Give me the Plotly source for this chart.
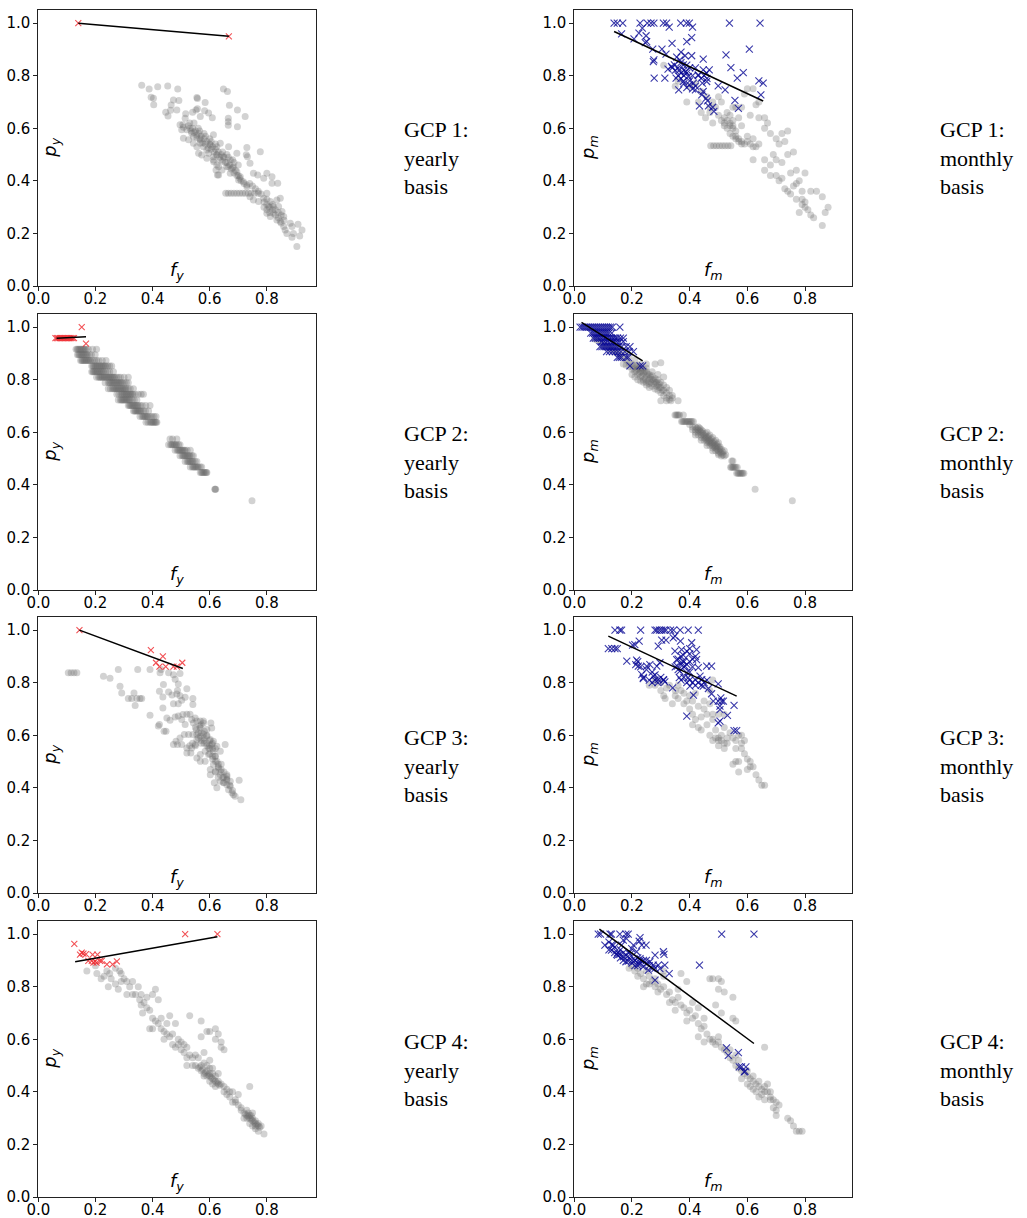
import plotly.graph_objects as go

# ---------------------------------------------------------------
# GCP 1, yearly basis: (f_y, p_y)
gcp1_y_gray = [
    (0.362, 0.764), (0.388, 0.749), (0.418, 0.758), (0.453, 0.761), (0.488, 0.749),
    (0.395, 0.718), (0.403, 0.714), (0.404, 0.690), (0.473, 0.708), (0.492, 0.706),
    (0.465, 0.689), (0.446, 0.661), (0.454, 0.647), (0.463, 0.669), (0.485, 0.670),
    (0.555, 0.717), (0.557, 0.713), (0.584, 0.698), (0.582, 0.667), (0.596, 0.658),
    (0.609, 0.640), (0.567, 0.645), (0.557, 0.674), (0.552, 0.670), (0.540, 0.661),
    (0.516, 0.655), (0.514, 0.638), (0.506, 0.613), (0.508, 0.604), (0.520, 0.594),
    (0.531, 0.600), (0.537, 0.581), (0.543, 0.568), (0.555, 0.574), (0.567, 0.555),
    (0.555, 0.530), (0.567, 0.543), (0.578, 0.530), (0.590, 0.517), (0.602, 0.536),
    (0.596, 0.505), (0.613, 0.492), (0.625, 0.498), (0.637, 0.479), (0.648, 0.492),
    (0.660, 0.454), (0.672, 0.479), (0.683, 0.454), (0.695, 0.435), (0.707, 0.416),
    (0.718, 0.397), (0.730, 0.384), (0.701, 0.403), (0.672, 0.429), (0.643, 0.441),
    (0.625, 0.460), (0.631, 0.422), (0.614, 0.473), (0.496, 0.613), (0.502, 0.594),
    (0.508, 0.562), (0.526, 0.556), (0.543, 0.543), (0.561, 0.505), (0.572, 0.498),
    (0.590, 0.486), (0.613, 0.479), (0.631, 0.454), (0.622, 0.441), (0.627, 0.422),
    (0.648, 0.749), (0.662, 0.740), (0.669, 0.688), (0.665, 0.638), (0.665, 0.625),
    (0.665, 0.612), (0.697, 0.606), (0.697, 0.670), (0.724, 0.645), (0.613, 0.575),
    (0.637, 0.543), (0.666, 0.530), (0.695, 0.505), (0.730, 0.527), (0.728, 0.499),
    (0.732, 0.492), (0.741, 0.467), (0.753, 0.429), (0.777, 0.511), (0.768, 0.422),
    (0.789, 0.410), (0.800, 0.429), (0.818, 0.416), (0.838, 0.391), (0.818, 0.391),
    (0.656, 0.353), (0.665, 0.353), (0.675, 0.353), (0.685, 0.353), (0.695, 0.353),
    (0.705, 0.353), (0.715, 0.353), (0.725, 0.353), (0.735, 0.353), (0.745, 0.353),
    (0.757, 0.353), (0.770, 0.353), (0.730, 0.378), (0.741, 0.340), (0.753, 0.327),
    (0.771, 0.321), (0.789, 0.334), (0.800, 0.353), (0.812, 0.321), (0.823, 0.302),
    (0.835, 0.327), (0.847, 0.334), (0.806, 0.302), (0.800, 0.277), (0.812, 0.264),
    (0.823, 0.277), (0.835, 0.251), (0.847, 0.245), (0.859, 0.226), (0.864, 0.213),
    (0.870, 0.200), (0.859, 0.264), (0.853, 0.283), (0.841, 0.302), (0.882, 0.239),
    (0.888, 0.226), (0.893, 0.200), (0.888, 0.185), (0.909, 0.235), (0.923, 0.213),
    (0.915, 0.190), (0.905, 0.150), (0.550, 0.590), (0.560, 0.580), (0.570, 0.570),
    (0.580, 0.560), (0.590, 0.550), (0.600, 0.540), (0.610, 0.530), (0.620, 0.520),
    (0.630, 0.510), (0.640, 0.500), (0.650, 0.490), (0.660, 0.470), (0.670, 0.460),
    (0.680, 0.450), (0.690, 0.440), (0.700, 0.420), (0.710, 0.400), (0.720, 0.390),
    (0.530, 0.620), (0.540, 0.600), (0.560, 0.600), (0.580, 0.580), (0.600, 0.560),
    (0.620, 0.540), (0.660, 0.500), (0.680, 0.480), (0.700, 0.460), (0.790, 0.320),
    (0.800, 0.310), (0.810, 0.300), (0.820, 0.290), (0.830, 0.270), (0.840, 0.260),
    (0.850, 0.240), (0.800, 0.330), (0.780, 0.350), (0.770, 0.360), (0.760, 0.370),
    (0.750, 0.380), (0.740, 0.390), (0.525, 0.610), (0.535, 0.590), (0.545, 0.585),
    (0.555, 0.565), (0.565, 0.560), (0.575, 0.545), (0.585, 0.540), (0.595, 0.525),
    (0.605, 0.520), (0.615, 0.510), (0.625, 0.500), (0.635, 0.490), (0.645, 0.475),
    (0.655, 0.470), (0.665, 0.455), (0.675, 0.445), (0.685, 0.430), (0.695, 0.420),
    (0.705, 0.410), (0.545, 0.620), (0.565, 0.590), (0.585, 0.570), (0.605, 0.550),
    (0.625, 0.530), (0.645, 0.510), (0.665, 0.490), (0.685, 0.470), (0.810, 0.280),
    (0.820, 0.310), (0.830, 0.290), (0.840, 0.280), (0.790, 0.300), (0.800, 0.290),
    (0.850, 0.270), (0.860, 0.250),
]
gcp1_y_hits = [(0.140, 1.000), (0.667, 0.950)]
gcp1_y_fit = [(0.140, 1.000), (0.667, 0.950)]

# GCP 1, monthly basis: (f_m, p_m)
gcp1_m_gray = [
    (0.455, 0.64), (0.470, 0.66), (0.490, 0.68), (0.510, 0.70), (0.480, 0.62),
    (0.500, 0.65), (0.510, 0.63), (0.520, 0.64), (0.530, 0.66), (0.540, 0.65),
    (0.550, 0.63), (0.520, 0.61), (0.530, 0.60), (0.540, 0.61), (0.550, 0.60),
    (0.560, 0.59), (0.540, 0.58), (0.550, 0.57), (0.560, 0.56), (0.570, 0.55),
    (0.580, 0.54), (0.590, 0.54), (0.600, 0.55), (0.610, 0.54), (0.620, 0.53),
    (0.630, 0.53), (0.560, 0.68), (0.570, 0.64), (0.580, 0.61), (0.600, 0.57),
    (0.620, 0.56), (0.640, 0.54), (0.620, 0.48), (0.640, 0.64), (0.660, 0.60),
    (0.660, 0.64), (0.600, 0.75), (0.620, 0.75), (0.640, 0.70), (0.670, 0.62),
    (0.680, 0.58), (0.700, 0.56), (0.720, 0.58), (0.740, 0.59), (0.730, 0.55),
    (0.710, 0.54), (0.473, 0.534), (0.483, 0.534), (0.493, 0.534), (0.503, 0.534),
    (0.513, 0.534), (0.523, 0.534), (0.533, 0.534), (0.543, 0.534),
    (0.66, 0.44), (0.68, 0.46), (0.69, 0.50), (0.70, 0.48), (0.72, 0.47),
    (0.74, 0.50), (0.76, 0.51), (0.70, 0.42), (0.71, 0.40), (0.72, 0.41),
    (0.73, 0.37), (0.74, 0.36), (0.75, 0.35), (0.76, 0.38), (0.77, 0.39),
    (0.78, 0.40), (0.75, 0.43), (0.77, 0.44), (0.80, 0.43), (0.79, 0.33),
    (0.80, 0.32), (0.79, 0.31), (0.80, 0.30), (0.81, 0.29), (0.82, 0.27),
    (0.83, 0.26), (0.78, 0.28), (0.77, 0.33), (0.82, 0.36), (0.84, 0.36),
    (0.86, 0.34), (0.86, 0.23), (0.88, 0.30), (0.87, 0.28), (0.79, 0.36),
    (0.68, 0.42), (0.66, 0.48), (0.31, 0.84), (0.35, 0.76), (0.36, 0.78),
    (0.39, 0.70), (0.40, 0.76), (0.42, 0.77), (0.44, 0.74), (0.46, 0.72),
    (0.48, 0.70), (0.44, 0.66), (0.43, 0.70), (0.47, 0.68), (0.50, 0.72),
    (0.55, 0.68), (0.58, 0.68), (0.59, 0.73), (0.61, 0.65), (0.63, 0.69),
    (0.52, 0.62), (0.53, 0.63), (0.54, 0.62), (0.55, 0.61), (0.56, 0.57),
    (0.57, 0.56), (0.58, 0.55),
]
gcp1_m_hits = [
    (0.138, 1.0), (0.149, 1.0), (0.168, 1.0), (0.228, 1.0), (0.253, 1.0), (0.266, 1.0),
    (0.276, 1.0), (0.309, 1.0), (0.320, 1.0), (0.369, 1.0), (0.389, 1.0), (0.399, 1.0),
    (0.538, 1.0), (0.644, 1.0), (0.164, 0.959), (0.207, 0.940), (0.224, 0.962),
    (0.236, 0.981), (0.249, 0.952), (0.251, 0.930), (0.246, 0.926), (0.272, 0.901),
    (0.274, 0.854), (0.276, 0.860), (0.304, 0.901), (0.318, 0.882), (0.329, 0.985),
    (0.339, 0.923), (0.277, 0.791), (0.314, 0.791), (0.325, 0.825), (0.337, 0.835),
    (0.347, 0.841), (0.355, 0.871), (0.353, 0.791), (0.364, 0.820), (0.366, 0.860),
    (0.370, 0.890), (0.384, 0.876), (0.378, 0.841), (0.386, 0.816), (0.390, 0.930),
    (0.407, 0.945), (0.410, 0.985), (0.407, 0.876), (0.395, 0.797), (0.378, 0.778),
    (0.362, 0.746), (0.390, 0.755), (0.399, 0.765), (0.413, 0.772), (0.420, 0.746),
    (0.430, 0.803), (0.447, 0.863), (0.447, 0.822), (0.459, 0.810), (0.459, 0.778),
    (0.468, 0.822), (0.444, 0.772), (0.447, 0.740), (0.442, 0.727), (0.457, 0.714),
    (0.462, 0.704), (0.434, 0.685), (0.465, 0.685), (0.480, 0.680), (0.484, 0.664),
    (0.499, 0.761), (0.523, 0.746), (0.526, 0.879), (0.543, 0.831), (0.557, 0.706),
    (0.565, 0.791), (0.569, 0.676), (0.586, 0.812), (0.607, 0.901), (0.640, 0.780),
    (0.655, 0.772), (0.647, 0.727), (0.36, 0.83), (0.37, 0.85), (0.38, 0.82),
    (0.39, 0.84), (0.40, 0.83), (0.38, 0.80), (0.37, 0.81), (0.39, 0.81), (0.41, 0.80),
    (0.40, 0.78), (0.36, 0.80), (0.35, 0.82), (0.34, 0.83), (0.42, 0.83), (0.43, 0.80),
    (0.44, 0.79), (0.45, 0.80), (0.46, 0.79), (0.42, 0.76), (0.41, 0.75), (0.38, 0.77),
    (0.37, 0.79),
]
gcp1_m_fit = [(0.138, 0.968), (0.655, 0.704)]

# GCP 2, yearly basis: many (f_y, p_y) pairs share the same p_y level
gcp2_y_levels = {
    0.916: [0.132, 0.136, 0.139, 0.143, 0.146, 0.150, 0.153, 0.157, 0.160, 0.164, 0.167,
            0.175, 0.190, 0.204],
    0.895: [0.137, 0.141, 0.144, 0.148, 0.151, 0.155, 0.158, 0.162, 0.165, 0.169, 0.172,
            0.179, 0.186, 0.199],
    0.873: [0.148, 0.152, 0.155, 0.159, 0.162, 0.166, 0.169, 0.173, 0.176, 0.180, 0.183,
            0.190, 0.197, 0.204, 0.212, 0.224, 0.237],
    0.852: [0.187, 0.191, 0.194, 0.198, 0.201, 0.205, 0.208, 0.212, 0.215, 0.219, 0.222,
            0.226, 0.229, 0.233, 0.236, 0.243, 0.250, 0.257],
    0.830: [0.187, 0.191, 0.194, 0.198, 0.201, 0.205, 0.208, 0.212, 0.215, 0.219, 0.222,
            0.226, 0.229, 0.236, 0.243, 0.250, 0.263],
    0.809: [0.204, 0.211, 0.215, 0.218, 0.222, 0.225, 0.229, 0.232, 0.236, 0.239, 0.243,
            0.246, 0.250, 0.253, 0.257, 0.260, 0.264, 0.267, 0.274, 0.281, 0.288, 0.300,
            0.315],
    0.788: [0.234, 0.245, 0.249, 0.252, 0.256, 0.259, 0.263, 0.266, 0.270, 0.273, 0.277,
            0.280, 0.284, 0.287, 0.291, 0.294, 0.301, 0.308, 0.315],
    0.766: [0.245, 0.252, 0.259, 0.263, 0.266, 0.270, 0.273, 0.277, 0.280, 0.284, 0.287,
            0.291, 0.294, 0.298, 0.301, 0.305, 0.308, 0.315, 0.322, 0.333],
    0.745: [0.275, 0.282, 0.289, 0.293, 0.296, 0.300, 0.303, 0.307, 0.310, 0.314, 0.317,
            0.321, 0.324, 0.328, 0.331, 0.338, 0.350, 0.360, 0.368],
    0.723: [0.280, 0.287, 0.291, 0.294, 0.298, 0.301, 0.305, 0.308, 0.312, 0.315, 0.319,
            0.322, 0.329, 0.336, 0.345],
    0.702: [0.315, 0.319, 0.322, 0.326, 0.329, 0.333, 0.336, 0.340, 0.343, 0.347, 0.350,
            0.357, 0.364, 0.376, 0.391],
    0.681: [0.333, 0.337, 0.340, 0.344, 0.347, 0.351, 0.354, 0.358, 0.361, 0.368, 0.375,
            0.386],
    0.660: [0.356, 0.363, 0.367, 0.370, 0.374, 0.377, 0.381, 0.384, 0.391, 0.398, 0.405,
            0.412],
    0.638: [0.377, 0.384, 0.391, 0.395, 0.398, 0.402, 0.405, 0.409, 0.412, 0.415],
    0.574: [0.461, 0.470, 0.485],
    0.553: [0.456, 0.463, 0.467, 0.470, 0.474, 0.477, 0.481, 0.484, 0.491, 0.496],
    0.532: [0.479, 0.486, 0.490, 0.493, 0.497, 0.500, 0.504, 0.507, 0.511, 0.514, 0.521,
            0.532],
    0.511: [0.496, 0.503, 0.507, 0.510, 0.514, 0.517, 0.521, 0.524, 0.528, 0.531, 0.538,
            0.543],
    0.489: [0.514, 0.521, 0.525, 0.528, 0.532, 0.535, 0.539, 0.542, 0.549, 0.555],
    0.468: [0.532, 0.539, 0.543, 0.546, 0.550, 0.553, 0.557, 0.560, 0.567, 0.572],
    0.447: [0.567, 0.571, 0.574, 0.578, 0.581, 0.585, 0.588, 0.590],
    0.383: [0.618, 0.619, 0.621],
    0.340: [0.748],
}
gcp2_y_hits = [
    (0.060, 0.958), (0.065, 0.958), (0.070, 0.958), (0.075, 0.958), (0.080, 0.958),
    (0.085, 0.958), (0.090, 0.958), (0.095, 0.958), (0.100, 0.958), (0.105, 0.958),
    (0.110, 0.958), (0.115, 0.958), (0.120, 0.958), (0.125, 0.958),
    (0.152, 1.000), (0.167, 0.937),
]
gcp2_y_fit = [(0.064, 0.958), (0.167, 0.963)]

# GCP 2, monthly basis
gcp2_m_gray = [
    (0.07, 0.955), (0.08, 0.95), (0.09, 0.945), (0.10, 0.935), (0.11, 0.93), (0.12, 0.92),
    (0.13, 0.915), (0.14, 0.905), (0.15, 0.90), (0.16, 0.89), (0.17, 0.885), (0.18, 0.875),
    (0.19, 0.865), (0.20, 0.86), (0.21, 0.85), (0.22, 0.84), (0.23, 0.83), (0.24, 0.825),
    (0.25, 0.815), (0.26, 0.805), (0.27, 0.80), (0.28, 0.79), (0.29, 0.78), (0.30, 0.77),
    (0.31, 0.76), (0.32, 0.75), (0.33, 0.74), (0.34, 0.73), (0.17, 0.86), (0.18, 0.855),
    (0.19, 0.85), (0.20, 0.84), (0.21, 0.83), (0.22, 0.82), (0.23, 0.81), (0.24, 0.80),
    (0.25, 0.79), (0.26, 0.785), (0.27, 0.775), (0.28, 0.765), (0.29, 0.76), (0.30, 0.75),
    (0.31, 0.74), (0.32, 0.73), (0.33, 0.725), (0.13, 0.93), (0.15, 0.92), (0.17, 0.905),
    (0.19, 0.89), (0.21, 0.875), (0.23, 0.86), (0.25, 0.845), (0.27, 0.83), (0.29, 0.82),
    (0.31, 0.81), (0.25, 0.86), (0.28, 0.86), (0.30, 0.865), (0.20, 0.82), (0.21, 0.81),
    (0.22, 0.80), (0.23, 0.795), (0.24, 0.79), (0.25, 0.78), (0.26, 0.77), (0.22, 0.85),
    (0.23, 0.845), (0.24, 0.84), (0.25, 0.83), (0.26, 0.82), (0.27, 0.815), (0.28, 0.805),
    (0.29, 0.80), (0.30, 0.79), (0.31, 0.78), (0.32, 0.77), (0.33, 0.76), (0.36, 0.72),
    (0.335, 0.72), (0.32, 0.72), (0.30, 0.72), (0.34, 0.74),
    (0.205, 0.845), (0.215, 0.835), (0.225, 0.825), (0.235, 0.815), (0.245, 0.805),
    (0.255, 0.795), (0.265, 0.790), (0.275, 0.785), (0.285, 0.775), (0.295, 0.770),
    (0.305, 0.760), (0.215, 0.855), (0.225, 0.845), (0.235, 0.835), (0.245, 0.830),
    (0.255, 0.820), (0.265, 0.810), (0.275, 0.800), (0.285, 0.790), (0.295, 0.785),
    (0.349, 0.666), (0.353, 0.666), (0.357, 0.666), (0.361, 0.666), (0.365, 0.666),
    (0.378, 0.666), (0.372, 0.641), (0.376, 0.641), (0.380, 0.641), (0.384, 0.641),
    (0.388, 0.641), (0.392, 0.641), (0.396, 0.641), (0.400, 0.641), (0.404, 0.641),
    (0.408, 0.641), (0.413, 0.641), (0.40, 0.63), (0.41, 0.62), (0.42, 0.61), (0.43, 0.60),
    (0.44, 0.59), (0.45, 0.58), (0.46, 0.57), (0.47, 0.56), (0.48, 0.55), (0.49, 0.54),
    (0.50, 0.53), (0.51, 0.52), (0.52, 0.51), (0.41, 0.61), (0.42, 0.60), (0.43, 0.59),
    (0.44, 0.58), (0.45, 0.57), (0.46, 0.56), (0.47, 0.55), (0.48, 0.54), (0.49, 0.53),
    (0.50, 0.52), (0.51, 0.51), (0.42, 0.62), (0.43, 0.61), (0.44, 0.60), (0.45, 0.59),
    (0.46, 0.58), (0.47, 0.57), (0.48, 0.56), (0.49, 0.55), (0.50, 0.545), (0.51, 0.535),
    (0.43, 0.62), (0.44, 0.61), (0.46, 0.60), (0.47, 0.59), (0.48, 0.58), (0.49, 0.57),
    (0.50, 0.56), (0.52, 0.53), (0.42, 0.59), (0.44, 0.57), (0.46, 0.55), (0.48, 0.53),
    (0.50, 0.515), (0.425, 0.615), (0.435, 0.605), (0.445, 0.595), (0.455, 0.585),
    (0.465, 0.575), (0.475, 0.565), (0.485, 0.555), (0.495, 0.545), (0.505, 0.535),
    (0.515, 0.525), (0.435, 0.615), (0.445, 0.605), (0.455, 0.595), (0.465, 0.585),
    (0.475, 0.575), (0.485, 0.565), (0.495, 0.555), (0.505, 0.545), (0.515, 0.515),
    (0.525, 0.515), (0.455, 0.575), (0.465, 0.565), (0.475, 0.555), (0.485, 0.545),
    (0.495, 0.535), (0.505, 0.525),
    (0.546, 0.491), (0.550, 0.491), (0.542, 0.467), (0.545, 0.467), (0.549, 0.467),
    (0.552, 0.467), (0.556, 0.467), (0.560, 0.467), (0.565, 0.467), (0.563, 0.444),
    (0.567, 0.444), (0.570, 0.444), (0.574, 0.444), (0.577, 0.444), (0.581, 0.444),
    (0.584, 0.444), (0.588, 0.444), (0.627, 0.383), (0.756, 0.340),
]
gcp2_m_hit_levels = {
    1.000: [0.020, 0.027, 0.034, 0.041, 0.048, 0.055, 0.062, 0.069, 0.076, 0.083, 0.090,
            0.097, 0.104, 0.111, 0.118, 0.125, 0.132, 0.158],
    0.977: [0.057, 0.064, 0.071, 0.078, 0.085, 0.092, 0.099, 0.106, 0.113, 0.120, 0.130],
    0.958: [0.066, 0.073, 0.080, 0.087, 0.094, 0.101, 0.108, 0.115, 0.122, 0.129, 0.136,
            0.143, 0.150, 0.160, 0.170],
    0.945: [0.095, 0.105, 0.115, 0.125, 0.135, 0.145, 0.155, 0.170],
    0.926: [0.089, 0.096, 0.103, 0.110, 0.117, 0.124, 0.131, 0.138, 0.145, 0.152, 0.165,
            0.180, 0.193],
    0.907: [0.112, 0.122, 0.132, 0.142, 0.152, 0.162, 0.175, 0.190, 0.205],
    0.885: [0.149, 0.156, 0.163, 0.180, 0.187],
    0.853: [0.193, 0.228, 0.237],
}
gcp2_m_fit = [(0.025, 1.018), (0.237, 0.872)]

# GCP 3, yearly basis
gcp3_y_gray = [
    (0.105, 0.838), (0.115, 0.838), (0.125, 0.838), (0.135, 0.838), (0.228, 0.825),
    (0.251, 0.817), (0.280, 0.850), (0.286, 0.787), (0.292, 0.761), (0.315, 0.740),
    (0.327, 0.740), (0.335, 0.761), (0.339, 0.713), (0.345, 0.740), (0.356, 0.740),
    (0.362, 0.740), (0.348, 0.850), (0.391, 0.850), (0.391, 0.676), (0.426, 0.838),
    (0.430, 0.850), (0.438, 0.793), (0.424, 0.768), (0.436, 0.746), (0.436, 0.704),
    (0.424, 0.641), (0.420, 0.635), (0.440, 0.615), (0.447, 0.615), (0.450, 0.666),
    (0.461, 0.657), (0.456, 0.765), (0.468, 0.753), (0.473, 0.720), (0.490, 0.720),
    (0.487, 0.770), (0.490, 0.795), (0.479, 0.813), (0.496, 0.835), (0.473, 0.830),
    (0.456, 0.838), (0.485, 0.757), (0.496, 0.750), (0.502, 0.733), (0.514, 0.745),
    (0.520, 0.777), (0.541, 0.740), (0.541, 0.717), (0.506, 0.679), (0.490, 0.673),
    (0.479, 0.670), (0.502, 0.660), (0.514, 0.641), (0.520, 0.680), (0.531, 0.680),
    (0.537, 0.660), (0.543, 0.647), (0.549, 0.666), (0.555, 0.654), (0.567, 0.654),
    (0.578, 0.647), (0.565, 0.635), (0.553, 0.622), (0.541, 0.603), (0.526, 0.603),
    (0.511, 0.603), (0.496, 0.590), (0.482, 0.577), (0.473, 0.565), (0.487, 0.565),
    (0.502, 0.565), (0.520, 0.552), (0.520, 0.533), (0.534, 0.533), (0.537, 0.552),
    (0.549, 0.565), (0.555, 0.584), (0.567, 0.596), (0.578, 0.605), (0.590, 0.596),
    (0.602, 0.584), (0.607, 0.565), (0.596, 0.552), (0.584, 0.539), (0.567, 0.527),
    (0.555, 0.514), (0.567, 0.501), (0.584, 0.501), (0.596, 0.527), (0.613, 0.539),
    (0.619, 0.520), (0.625, 0.501), (0.613, 0.489), (0.602, 0.470), (0.602, 0.450),
    (0.619, 0.463), (0.631, 0.476), (0.637, 0.450), (0.646, 0.438), (0.637, 0.425),
    (0.648, 0.419), (0.660, 0.434), (0.654, 0.565), (0.637, 0.539), (0.625, 0.558),
    (0.613, 0.577), (0.581, 0.615), (0.590, 0.622), (0.607, 0.628), (0.604, 0.647),
    (0.578, 0.654), (0.567, 0.628), (0.555, 0.603), (0.660, 0.412), (0.672, 0.406),
    (0.666, 0.393), (0.678, 0.381), (0.683, 0.374), (0.689, 0.368), (0.709, 0.355),
    (0.703, 0.429), (0.672, 0.425), (0.660, 0.444), (0.625, 0.400), (0.616, 0.419),
    (0.56, 0.59), (0.57, 0.58), (0.58, 0.57), (0.59, 0.56), (0.60, 0.55), (0.58, 0.59),
    (0.59, 0.60), (0.57, 0.61), (0.60, 0.58), (0.61, 0.57), (0.62, 0.55), (0.61, 0.52),
    (0.62, 0.50), (0.63, 0.49), (0.64, 0.47), (0.65, 0.46), (0.66, 0.45), (0.63, 0.44),
    (0.65, 0.42), (0.67, 0.41), (0.68, 0.39), (0.57, 0.57), (0.58, 0.58), (0.59, 0.57),
    (0.60, 0.56), (0.61, 0.55), (0.60, 0.53), (0.61, 0.51), (0.62, 0.52), (0.63, 0.48),
    (0.64, 0.46), (0.65, 0.44), (0.66, 0.43), (0.62, 0.46), (0.64, 0.49), (0.55, 0.56),
    (0.54, 0.57), (0.53, 0.56), (0.56, 0.61), (0.57, 0.64), (0.55, 0.63),
]
gcp3_y_hits = [
    (0.144, 1.000), (0.394, 0.924), (0.436, 0.900), (0.412, 0.876), (0.424, 0.861),
    (0.446, 0.861), (0.473, 0.861), (0.485, 0.861), (0.504, 0.876),
]
gcp3_y_fit = [(0.144, 1.000), (0.506, 0.854)]

# GCP 3, monthly basis
gcp3_m_gray = [
    (0.26, 0.79), (0.28, 0.79), (0.30, 0.77), (0.32, 0.78), (0.31, 0.75), (0.315, 0.74),
    (0.34, 0.72), (0.35, 0.75), (0.36, 0.74), (0.37, 0.77), (0.38, 0.76), (0.38, 0.72),
    (0.40, 0.75), (0.41, 0.73), (0.42, 0.76), (0.40, 0.70), (0.41, 0.68), (0.42, 0.66),
    (0.41, 0.64), (0.43, 0.63), (0.44, 0.67), (0.45, 0.70), (0.46, 0.68), (0.47, 0.72),
    (0.48, 0.66), (0.49, 0.62), (0.47, 0.60), (0.48, 0.58), (0.50, 0.59), (0.51, 0.58),
    (0.52, 0.57), (0.53, 0.59), (0.50, 0.56), (0.52, 0.55), (0.55, 0.59), (0.56, 0.58),
    (0.57, 0.60), (0.58, 0.57), (0.58, 0.55), (0.59, 0.53), (0.60, 0.51), (0.61, 0.50),
    (0.62, 0.48), (0.63, 0.45), (0.64, 0.43), (0.65, 0.41), (0.66, 0.41), (0.57, 0.50),
    (0.55, 0.49), (0.57, 0.46), (0.60, 0.47), (0.61, 0.48), (0.52, 0.68), (0.50, 0.68),
    (0.48, 0.68), (0.46, 0.64), (0.44, 0.62), (0.52, 0.63), (0.54, 0.61), (0.56, 0.55),
    (0.45, 0.73), (0.47, 0.77), (0.48, 0.81), (0.36, 0.79), (0.30, 0.80), (0.28, 0.81),
    (0.51, 0.60), (0.50, 0.58), (0.49, 0.59), (0.53, 0.57), (0.56, 0.50), (0.58, 0.60),
    (0.59, 0.58), (0.43, 0.71), (0.39, 0.73), (0.35, 0.77), (0.33, 0.79),
]
gcp3_m_hits = [
    (0.141, 1.0), (0.158, 1.0), (0.164, 1.0), (0.230, 1.0), (0.280, 1.0), (0.286, 1.0),
    (0.295, 1.0), (0.303, 1.0), (0.311, 1.0), (0.318, 1.0), (0.334, 1.0), (0.344, 1.0),
    (0.367, 1.0), (0.395, 1.0), (0.430, 1.0), (0.118, 0.930), (0.130, 0.930),
    (0.141, 0.930), (0.149, 0.930), (0.182, 0.882), (0.202, 0.943), (0.210, 0.945),
    (0.225, 0.958), (0.216, 0.886), (0.213, 0.869), (0.222, 0.863), (0.234, 0.831),
    (0.239, 0.816), (0.251, 0.863), (0.262, 0.869), (0.274, 0.825), (0.291, 0.812),
    (0.286, 0.863), (0.297, 0.876), (0.291, 0.939), (0.303, 0.962), (0.318, 0.962),
    (0.309, 0.812), (0.314, 0.803), (0.341, 0.780), (0.343, 0.971), (0.349, 0.977),
    (0.349, 0.920), (0.355, 0.888), (0.357, 0.863), (0.366, 0.844), (0.364, 0.819),
    (0.368, 0.958), (0.372, 0.926), (0.378, 0.905), (0.376, 0.882), (0.384, 0.863),
    (0.390, 0.838), (0.395, 0.819), (0.401, 0.787), (0.407, 0.952), (0.413, 0.753),
    (0.390, 0.673), (0.424, 0.926), (0.424, 0.888), (0.430, 0.857), (0.436, 0.825),
    (0.442, 0.812), (0.419, 0.812), (0.447, 0.787), (0.459, 0.863), (0.476, 0.863),
    (0.465, 0.778), (0.476, 0.758), (0.499, 0.796), (0.482, 0.730), (0.499, 0.730),
    (0.508, 0.742), (0.511, 0.730), (0.517, 0.730), (0.505, 0.711), (0.505, 0.698),
    (0.499, 0.647), (0.505, 0.654), (0.531, 0.676), (0.554, 0.714), (0.554, 0.618),
    (0.563, 0.618), (0.36, 0.89), (0.37, 0.90), (0.38, 0.88), (0.37, 0.87), (0.38, 0.86),
    (0.39, 0.87), (0.40, 0.88), (0.41, 0.89), (0.42, 0.90), (0.41, 0.86), (0.40, 0.84),
    (0.38, 0.82), (0.37, 0.81), (0.39, 0.80), (0.40, 0.81), (0.41, 0.80), (0.42, 0.79),
    (0.43, 0.80), (0.44, 0.79), (0.45, 0.80), (0.46, 0.81), (0.36, 0.85), (0.35, 0.86),
    (0.39, 0.92), (0.40, 0.93), (0.40, 0.91), (0.24, 0.82), (0.26, 0.81), (0.27, 0.80),
    (0.28, 0.81), (0.29, 0.80), (0.30, 0.82), (0.31, 0.81), (0.22, 0.88), (0.23, 0.86),
    (0.25, 0.85), (0.27, 0.84), (0.28, 0.83),
]
gcp3_m_fit = [(0.118, 0.977), (0.563, 0.749)]

# GCP 4, yearly basis
gcp4_y_gray = [
    (0.17, 0.86), (0.20, 0.88), (0.205, 0.85), (0.22, 0.83), (0.23, 0.84), (0.24, 0.86),
    (0.25, 0.85), (0.245, 0.80), (0.255, 0.83), (0.27, 0.87), (0.285, 0.86), (0.27, 0.81),
    (0.28, 0.79), (0.29, 0.82), (0.30, 0.83), (0.31, 0.82), (0.32, 0.80), (0.33, 0.77),
    (0.34, 0.77), (0.35, 0.80), (0.355, 0.75), (0.36, 0.73), (0.37, 0.74), (0.365, 0.70),
    (0.38, 0.72), (0.39, 0.71), (0.40, 0.77), (0.41, 0.79), (0.42, 0.75), (0.40, 0.68),
    (0.41, 0.67), (0.42, 0.66), (0.39, 0.64), (0.40, 0.64), (0.43, 0.64), (0.44, 0.63),
    (0.45, 0.62), (0.46, 0.61), (0.45, 0.66), (0.46, 0.69), (0.48, 0.66), (0.47, 0.58),
    (0.48, 0.57), (0.49, 0.58), (0.50, 0.56), (0.51, 0.55), (0.52, 0.57), (0.53, 0.54),
    (0.52, 0.53), (0.54, 0.50), (0.55, 0.50), (0.56, 0.49), (0.57, 0.48), (0.58, 0.47),
    (0.59, 0.46), (0.60, 0.46), (0.61, 0.45), (0.62, 0.44), (0.63, 0.43), (0.64, 0.43),
    (0.65, 0.42), (0.66, 0.41), (0.67, 0.40), (0.68, 0.40), (0.69, 0.37), (0.70, 0.35),
    (0.71, 0.33), (0.72, 0.32), (0.73, 0.31), (0.74, 0.31), (0.75, 0.30), (0.76, 0.29),
    (0.77, 0.28), (0.78, 0.27), (0.79, 0.24), (0.76, 0.27), (0.75, 0.32), (0.73, 0.33),
    (0.71, 0.34), (0.74, 0.42), (0.70, 0.39), (0.69, 0.36), (0.53, 0.69), (0.57, 0.67),
    (0.59, 0.63), (0.60, 0.63), (0.62, 0.64), (0.62, 0.60), (0.63, 0.62), (0.64, 0.59),
    (0.64, 0.57), (0.65, 0.56), (0.57, 0.61), (0.58, 0.55), (0.60, 0.52), (0.61, 0.49),
    (0.63, 0.47), (0.55, 0.54), (0.56, 0.53), (0.58, 0.51), (0.59, 0.50), (0.60, 0.49),
    (0.61, 0.47), (0.62, 0.46), (0.63, 0.44), (0.65, 0.40), (0.66, 0.39), (0.67, 0.38),
    (0.68, 0.36), (0.72, 0.30), (0.74, 0.28), (0.75, 0.27), (0.76, 0.26), (0.77, 0.25),
    (0.49, 0.60), (0.47, 0.62), (0.44, 0.60), (0.50, 0.59), (0.51, 0.58), (0.52, 0.50),
    (0.54, 0.53), (0.43, 0.68), (0.31, 0.77), (0.33, 0.82), (0.36, 0.77), (0.38, 0.76),
    (0.29, 0.85), (0.59, 0.48), (0.60, 0.44), (0.61, 0.43), (0.62, 0.42), (0.58, 0.46),
    (0.57, 0.50), (0.60, 0.47), (0.73, 0.30), (0.74, 0.30), (0.75, 0.29), (0.76, 0.28),
    (0.77, 0.27), (0.585, 0.475), (0.595, 0.465), (0.605, 0.455), (0.615, 0.445),
    (0.625, 0.435), (0.635, 0.425), (0.575, 0.485), (0.565, 0.495), (0.725, 0.315),
    (0.735, 0.305), (0.745, 0.295), (0.755, 0.285), (0.765, 0.275), (0.775, 0.265),
    (0.735, 0.320), (0.745, 0.310),
]
gcp4_y_hits = [
    (0.126, 0.963), (0.514, 1.000), (0.627, 1.000), (0.152, 0.930), (0.158, 0.926),
    (0.167, 0.924), (0.146, 0.922), (0.175, 0.898), (0.187, 0.898), (0.193, 0.892),
    (0.190, 0.922), (0.207, 0.922), (0.204, 0.892), (0.216, 0.898), (0.222, 0.898),
    (0.240, 0.885), (0.260, 0.885), (0.275, 0.896), (0.199, 0.896),
]
gcp4_y_fit = [(0.129, 0.895), (0.627, 0.990)]

# GCP 4, monthly basis
gcp4_m_gray = [
    (0.19, 0.87), (0.21, 0.86), (0.22, 0.84), (0.23, 0.85), (0.24, 0.83), (0.25, 0.81),
    (0.26, 0.84), (0.27, 0.82), (0.28, 0.80), (0.29, 0.81), (0.30, 0.79), (0.31, 0.80),
    (0.32, 0.77), (0.33, 0.78), (0.34, 0.75), (0.35, 0.74), (0.36, 0.76), (0.37, 0.73),
    (0.38, 0.72), (0.39, 0.70), (0.40, 0.71), (0.41, 0.68), (0.42, 0.69), (0.43, 0.66),
    (0.44, 0.64), (0.45, 0.65), (0.46, 0.62), (0.47, 0.60), (0.48, 0.60), (0.49, 0.58),
    (0.50, 0.59), (0.51, 0.57), (0.52, 0.56), (0.53, 0.55), (0.54, 0.53), (0.55, 0.52),
    (0.56, 0.50), (0.57, 0.49), (0.58, 0.48), (0.59, 0.47), (0.60, 0.46), (0.61, 0.45),
    (0.62, 0.44), (0.63, 0.43), (0.64, 0.42), (0.65, 0.41), (0.66, 0.40), (0.67, 0.40),
    (0.68, 0.38), (0.69, 0.37), (0.70, 0.36), (0.71, 0.35), (0.70, 0.33), (0.74, 0.30),
    (0.75, 0.29), (0.76, 0.27), (0.77, 0.25), (0.78, 0.25), (0.79, 0.25), (0.37, 0.85),
    (0.39, 0.82), (0.47, 0.83), (0.48, 0.83), (0.50, 0.83), (0.51, 0.82), (0.50, 0.79),
    (0.52, 0.78), (0.55, 0.76), (0.49, 0.73), (0.51, 0.70), (0.55, 0.68), (0.56, 0.67),
    (0.50, 0.61), (0.48, 0.59), (0.45, 0.59), (0.45, 0.68), (0.43, 0.72), (0.41, 0.74),
    (0.36, 0.79), (0.31, 0.84), (0.28, 0.83), (0.26, 0.81), (0.24, 0.80), (0.29, 0.78),
    (0.33, 0.74), (0.35, 0.71), (0.39, 0.67), (0.43, 0.61), (0.54, 0.56), (0.56, 0.54),
    (0.57, 0.52), (0.58, 0.45), (0.60, 0.43), (0.62, 0.41), (0.63, 0.40), (0.65, 0.39),
    (0.66, 0.37), (0.67, 0.43), (0.66, 0.57), (0.68, 0.37), (0.69, 0.34), (0.70, 0.31),
    (0.64, 0.38), (0.61, 0.42), (0.60, 0.48), (0.62, 0.46), (0.64, 0.44), (0.66, 0.42),
    (0.68, 0.40), (0.20, 0.88), (0.22, 0.87), (0.25, 0.86), (0.31, 0.86),
]
gcp4_m_hits = [
    (0.083, 1.0), (0.091, 1.0), (0.124, 1.0), (0.129, 1.0), (0.158, 1.0), (0.179, 1.0),
    (0.187, 1.0), (0.511, 1.0), (0.623, 1.0), (0.106, 0.958), (0.135, 0.958),
    (0.164, 0.958), (0.170, 0.977), (0.181, 0.983), (0.228, 0.987), (0.225, 0.973),
    (0.129, 0.939), (0.147, 0.923), (0.158, 0.923), (0.170, 0.914), (0.187, 0.897),
    (0.179, 0.895), (0.193, 0.923), (0.199, 0.945), (0.205, 0.958), (0.216, 0.933),
    (0.234, 0.958), (0.249, 0.958), (0.210, 0.901), (0.222, 0.888), (0.228, 0.907),
    (0.239, 0.876), (0.251, 0.888), (0.257, 0.863), (0.262, 0.895), (0.280, 0.920),
    (0.274, 0.882), (0.291, 0.882), (0.297, 0.869), (0.309, 0.933), (0.311, 0.923),
    (0.314, 0.882), (0.329, 0.850), (0.280, 0.825), (0.434, 0.882), (0.528, 0.567),
    (0.534, 0.539), (0.569, 0.549), (0.572, 0.495), (0.580, 0.495), (0.592, 0.478),
    (0.595, 0.495), (0.589, 0.476), (0.19, 0.91), (0.20, 0.90), (0.21, 0.90),
    (0.22, 0.91), (0.23, 0.90), (0.20, 0.89), (0.21, 0.88), (0.22, 0.88), (0.23, 0.89),
    (0.24, 0.90), (0.25, 0.90), (0.26, 0.88), (0.27, 0.87), (0.28, 0.87), (0.15, 0.93),
    (0.14, 0.95), (0.13, 0.96), (0.12, 0.97), (0.16, 0.94), (0.17, 0.93), (0.18, 0.92),
    (0.19, 0.93), (0.12, 0.94), (0.14, 0.93), (0.15, 0.92), (0.16, 0.91), (0.17, 0.90),
]
gcp4_m_fit = [(0.087, 1.019), (0.623, 0.584)]

# ---------------------------------------------------------------
def from_levels(levels):
    return [(x, y) for y, xs in levels.items() for x in xs]


YEAR_HIT = "#f0282d"
MONTH_HIT = "#0a0a96"

panels = [
    dict(gray=gcp1_y_gray, hits=gcp1_y_hits, fit=gcp1_y_fit, color=YEAR_HIT, sub="y",
         text="GCP 1:<br>yearly<br>basis"),
    dict(gray=gcp1_m_gray, hits=gcp1_m_hits, fit=gcp1_m_fit, color=MONTH_HIT, sub="m",
         text="GCP 1:<br>monthly<br>basis"),
    dict(gray=from_levels(gcp2_y_levels), hits=gcp2_y_hits, fit=gcp2_y_fit, color=YEAR_HIT,
         sub="y", text="GCP 2:<br>yearly<br>basis"),
    dict(gray=gcp2_m_gray, hits=from_levels(gcp2_m_hit_levels), fit=gcp2_m_fit,
         color=MONTH_HIT, sub="m", text="GCP 2:<br>monthly<br>basis"),
    dict(gray=gcp3_y_gray, hits=gcp3_y_hits, fit=gcp3_y_fit, color=YEAR_HIT, sub="y",
         text="GCP 3:<br>yearly<br>basis"),
    dict(gray=gcp3_m_gray, hits=gcp3_m_hits, fit=gcp3_m_fit, color=MONTH_HIT, sub="m",
         text="GCP 3:<br>monthly<br>basis"),
    dict(gray=gcp4_y_gray, hits=gcp4_y_hits, fit=gcp4_y_fit, color=YEAR_HIT, sub="y",
         text="GCP 4:<br>yearly<br>basis"),
    dict(gray=gcp4_m_gray, hits=gcp4_m_hits, fit=gcp4_m_fit, color=MONTH_HIT, sub="m",
         text="GCP 4:<br>monthly<br>basis"),
]

W, H = 1027, 1218
col_px = [(38.3, 316.0), (574.3, 852.3)]
col_xmax = [0.972, 0.964]
row_top_px = [10, 314, 617, 921]
box_h = 276
text_x_px = [402, 938]

fig = go.Figure()
layout_axes = {}
annotations = []

for i, p in enumerate(panels):
    n = i + 1
    r, c = divmod(i, 2)
    xa = "x" if n == 1 else f"x{n}"
    ya = "y" if n == 1 else f"y{n}"
    xkey = "xaxis" if n == 1 else f"xaxis{n}"
    ykey = "yaxis" if n == 1 else f"yaxis{n}"

    gx, gy = zip(*p["gray"])
    fig.add_trace(go.Scatter(
        x=gx, y=gy, mode="markers", xaxis=xa, yaxis=ya, showlegend=False,
        marker=dict(symbol="circle", size=7, color="rgb(105,105,105)", opacity=0.3,
                    line=dict(width=0)),
    ))
    hx, hy = zip(*p["hits"])
    fig.add_trace(go.Scatter(
        x=hx, y=hy, mode="markers", xaxis=xa, yaxis=ya, showlegend=False,
        marker=dict(symbol="x-thin", size=6 if p["sub"] == "y" else 7, opacity=0.8,
                    color=p["color"], line=dict(width=1.1, color=p["color"])),
    ))
    fx, fy = zip(*p["fit"])
    fig.add_trace(go.Scatter(
        x=fx, y=fy, mode="lines", xaxis=xa, yaxis=ya, showlegend=False,
        line=dict(color="black", width=1.5),
    ))

    x0, x1 = col_px[c]
    top = row_top_px[r]
    bottom = top + box_h
    common = dict(showgrid=False, zeroline=False, showline=True, mirror=True,
                  linecolor="#222222", linewidth=1, ticks="outside", ticklen=4,
                  tickwidth=1, tickcolor="#222222", automargin=False,
                  tickfont=dict(family="DejaVu Sans", size=15, color="black"))
    layout_axes[xkey] = dict(domain=[x0 / W, x1 / W], range=[0, col_xmax[c]],
                             anchor=ya, tickvals=[0, 0.2, 0.4, 0.6, 0.8],
                             tickformat=".1f", ticklabelstandoff=-5, **common)
    layout_axes[ykey] = dict(domain=[1 - bottom / H, 1 - top / H], range=[0, 1.05],
                             anchor=xa, tickvals=[0, 0.2, 0.4, 0.6, 0.8, 1.0],
                             tickformat=".1f", **common)

    sub = p["sub"]
    # axis titles drawn inside the axes box
    annotations.append(dict(
        text=f"<i>p</i><sub><i>{sub}</i></sub>", xref=f"{xa} domain", yref=f"{ya} domain",
        x=0.045 if c == 0 else 0.053, y=0.5, showarrow=False, textangle=-90,
        font=dict(family="DejaVu Sans", size=18, color="black"),
        xanchor="center", yanchor="middle"))
    annotations.append(dict(
        text=f"<i>f</i><sub><i>{sub}</i></sub>", xref=f"{xa} domain", yref=f"{ya} domain",
        x=0.5, y=0.055, showarrow=False,
        font=dict(family="DejaVu Sans", size=18, color="black"),
        xanchor="center", yanchor="middle"))
    # panel caption
    annotations.append(dict(
        text=p["text"], xref="paper", yref="paper", x=text_x_px[c] / W,
        y=1 - (158 + 304 * r) / H, xanchor="left", yanchor="middle", align="left",
        showarrow=False, font=dict(family="Liberation Serif", size=22, color="black")))

fig.update_layout(
    width=W, height=H, margin=dict(l=0, r=0, t=0, b=0),
    paper_bgcolor="white", plot_bgcolor="white",
    annotations=annotations, **layout_axes,
)

fig.write_html("out.html")
